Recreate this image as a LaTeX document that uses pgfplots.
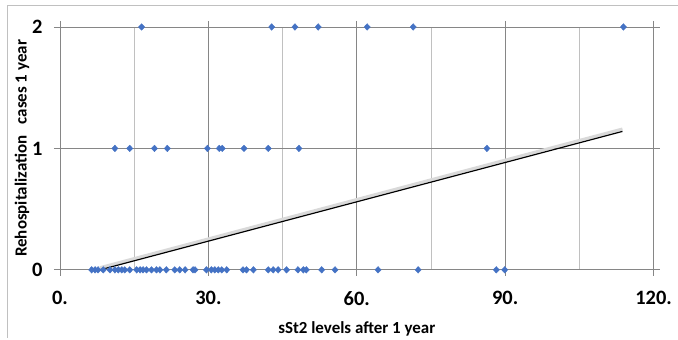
\documentclass[border=0pt]{standalone}
\usepackage{pgfplots}
\pgfplotsset{compat=1.18}
\usepackage{fontspec}
\setmainfont{Carlito}
\definecolor{ptblue}{RGB}{68,114,196}
\definecolor{majgrid}{RGB}{134,134,134}
\definecolor{mingrid}{RGB}{192,192,192}
\begin{document}
\begin{tikzpicture}[x=1bp,y=1bp]
\path (0,0) rectangle (678,338);
\draw[mingrid, line width=0.8bp] (7,0) -- (7,333) -- (678,333);
\begin{axis}[
  at={(60bp,68bp)}, anchor=south west,
  scale only axis, width=594bp, height=243bp,
  xmin=0, xmax=120, ymin=0, ymax=2,
  xtick={0,30,60,90,120}, xticklabels={0.,30.,60.,90.,120.},
  minor xtick={15,45,75,105},
  ytick={0,1,2},
  xmajorgrids, xminorgrids, ymajorgrids,
  major grid style={majgrid, line width=0.8bp},
  minor grid style={mingrid, line width=0.8bp},
  axis line style={majgrid, line width=0.8bp},
  tick style={majgrid, line width=0.8bp},
  tick align=outside, major tick length=6bp, minor tick length=0bp,
  /pgf/number format/assume math mode=true,
  ticklabel style={font=\bfseries\fontsize{20.5}{20.5}\selectfont},
  x tick label style={yshift=-12bp},
  y tick label style={xshift=-8bp},
  label style={font=\bfseries\fontsize{17}{17}\selectfont},
  xlabel={sSt2 levels after 1 year},
  ylabel={Rehospitalization\ \ \ cases 1 year},
  xlabel style={yshift=-9bp},
  ylabel style={yshift=-4bp},
  clip=false,
]
\addplot[gray!30, line width=3bp] coordinates {(8.1,0.018) (113.7,1.16)};
\addplot[black, line width=1.2bp] coordinates {(8.1,0) (113.7,1.14)};
\addplot[only marks, mark=diamond*, mark size=3.3bp, mark options={xscale=1.25}, color=ptblue] coordinates {
(6.4,0)(7.1,0)(7.7,0)(8.75,0)(10.1,0)(11.1,0)(11.8,0)(12.5,0)(13.1,0)(14.1,0)
(15.5,0)(16.2,0)(16.8,0)(17.5,0)(18.5,0)(19.5,0)(20.2,0)(21.5,0)(23.2,0)(24.2,0)
(25.3,0)(26.9,0)(27.3,0)(29.6,0)(30.6,0)(31.3,0)(32,0)(32.7,0)(33.7,0)(37,0)
(37.7,0)(39.1,0)(42.1,0)(43.1,0)(44.1,0)(45.8,0)(48.1,0)(49.2,0)(49.8,0)(52.9,0)
(55.6,0)(64.3,0)(72.4,0)(88.2,0)(89.9,0)
(11.1,1)(14.1,1)(19.1,1)(21.7,1)(29.8,1)(32.2,1)(32.8,1)(37.2,1)(42.1,1)(48.3,1)(86.3,1)
(16.5,2)(42.8,2)(47.5,2)(52.2,2)(62.1,2)(71.4,2)(113.9,2)
};
\end{axis}
\end{tikzpicture}
\end{document}
